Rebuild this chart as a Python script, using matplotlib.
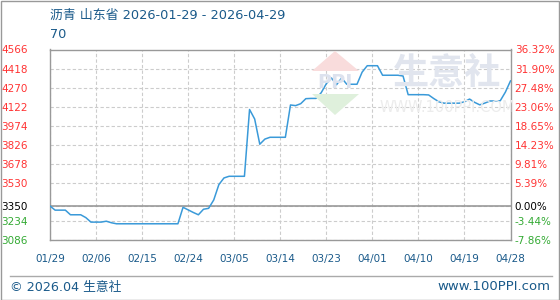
import matplotlib
matplotlib.use("Agg")
import matplotlib.pyplot as plt
from matplotlib.patches import Polygon, Rectangle
from matplotlib.lines import Line2D

plt.rcParams['font.family'] = ['DejaVu Sans', 'Noto Sans CJK SC']

# daily prices, 2026-01-29 .. 2026-04-29
prices = [
    3350, 3318, 3318, 3318, 3282, 3282, 3282, 3260, 3225, 3225,
    3225, 3232, 3220, 3212, 3212, 3212, 3212, 3212, 3212, 3212,
    3212, 3212, 3212, 3212, 3212, 3212, 3340, 3320, 3300, 3282,
    3325, 3332, 3397, 3516, 3568, 3581, 3581, 3581, 3581, 4100,
    4026, 3830, 3870, 3884, 3884, 3884, 3884, 4135, 4130, 4145,
    4184, 4186, 4186, 4230, 4300, 4345, 4292, 4345, 4296, 4296,
    4296, 4390, 4440, 4440, 4440, 4366, 4366, 4366, 4366, 4360,
    4215, 4215, 4215, 4215, 4213, 4185, 4160, 4149, 4149, 4149,
    4149, 4160, 4181, 4155, 4136, 4150, 4166, 4166, 4168, 4235,
    4322,
]
days = list(range(len(prices)))

x_tick_labels = ["01/29", "02/06", "02/15", "02/24", "03/05", "03/14",
                 "03/23", "04/01", "04/10", "04/19", "04/28"]
left_ticks = [3086, 3234, 3350, 3530, 3678, 3826, 3974, 4122, 4270, 4418, 4566]
right_labels = ["-7.86%", "-3.44%", "0.00%", "5.39%", "9.81%", "14.23%",
                "18.65%", "23.06%", "27.48%", "31.90%", "36.32%"]
base_price = 3350

RED = "#ff3333"
GREEN = "#33aa33"
NAVY = "#1a5a8a"

fig = plt.figure(figsize=(5.6, 3.0), dpi=100)
W, H = 560, 300
ax = fig.add_axes([50 / W, 60 / H, 460.5 / W, 190.5 / H])

def fx(px):
    return px / W
def fy(py):
    return 1 - py / H

# watermark logo (behind the line)
fig.patches.append(Polygon([(fx(312), fy(71)), (fx(335), fy(51)), (fx(359), fy(71))],
                           closed=True, transform=fig.transFigure,
                           facecolor="#f9dcdc", edgecolor="none", zorder=0.5))
fig.patches.append(Polygon([(fx(312), fy(94)), (fx(335), fy(115)), (fx(359), fy(94))],
                           closed=True, transform=fig.transFigure,
                           facecolor="#dff0dc", edgecolor="none", zorder=0.5))
fig.text(fx(335), fy(83), "PPI", ha="center", va="center", fontsize=14,
         fontweight="bold", color="#dde2ee", zorder=0.6)
fig.text(fx(447), fy(73), "生意社", ha="center", va="center", fontsize=26,
         fontweight="bold", color="#e1e5ee", family=['Noto Sans CJK SC'], zorder=0.6)
fig.text(fx(447), fy(107), "WWW.100PPI.COM", ha="center", va="center",
         fontsize=10.5, color="#ececec", zorder=0.6)
ax.set_facecolor("none")

ax.plot(days, prices, color="#3a9ad9", lw=1.1, zorder=3)

ax.set_xlim(0, 90)
ax.set_ylim(left_ticks[0], left_ticks[-1])
ax.set_xticks(range(0, 91, 9))
ax.set_xticklabels(x_tick_labels)
ax.set_yticks(left_ticks)
ax.set_yticklabels([str(v) for v in left_ticks])

ax.grid(True, color="#cccccc", linestyle=(0, (3, 2)), lw=0.8)
ax.axhline(base_price, color="#999999", lw=1.2, zorder=2)
for s in ax.spines.values():
    s.set_color("#999999")
    s.set_linewidth(1.0)

ax.tick_params(axis="both", length=0, labelsize=7.5)
ax.tick_params(axis="x", colors=NAVY, pad=10)
ax.tick_params(axis="y", pad=16)
for lbl, v in zip(ax.get_yticklabels(), left_ticks):
    lbl.set_color(RED if v > base_price else ("black" if v == base_price else GREEN))

ax2 = ax.twinx()
ax2.set_ylim(ax.get_ylim())
ax2.set_yticks(left_ticks)
ax2.set_yticklabels(right_labels)
ax2.tick_params(axis="y", length=0, labelsize=7.5, pad=3)
for s in ax2.spines.values():
    s.set_visible(False)
for lbl, v in zip(ax2.get_yticklabels(), left_ticks):
    lbl.set_color(RED if v > base_price else ("black" if v == base_price else GREEN))

# titles
fig.text(fx(50), fy(15), "沥青 山东省 2026-01-29 - 2026-04-29", ha="left", va="center",
         fontsize=9.3, color=NAVY)
fig.text(fx(50), fy(35), "70", ha="left", va="center", fontsize=9.3, color=NAVY)

# footer
fig.lines.append(Line2D([fx(10), fx(552)], [fy(275.5), fy(275.5)],
                        transform=fig.transFigure, color="#aaaaaa", lw=1.0))
fig.text(fx(10), fy(287), "© 2026.04 生意社", ha="left", va="center",
         fontsize=9.2, color=NAVY)
fig.text(fx(550), fy(286), "www.100PPI.com", ha="right", va="center",
         fontsize=9.5, color=NAVY)

# outer frame
fig.patches.append(Rectangle((0.5 / W, 0.5 / H), 1 - 1.5 / W, 1 - 1.5 / H,
                             transform=fig.transFigure, fill=False,
                             edgecolor="#999999", lw=1.0))

fig.savefig("out.png", dpi=100)
